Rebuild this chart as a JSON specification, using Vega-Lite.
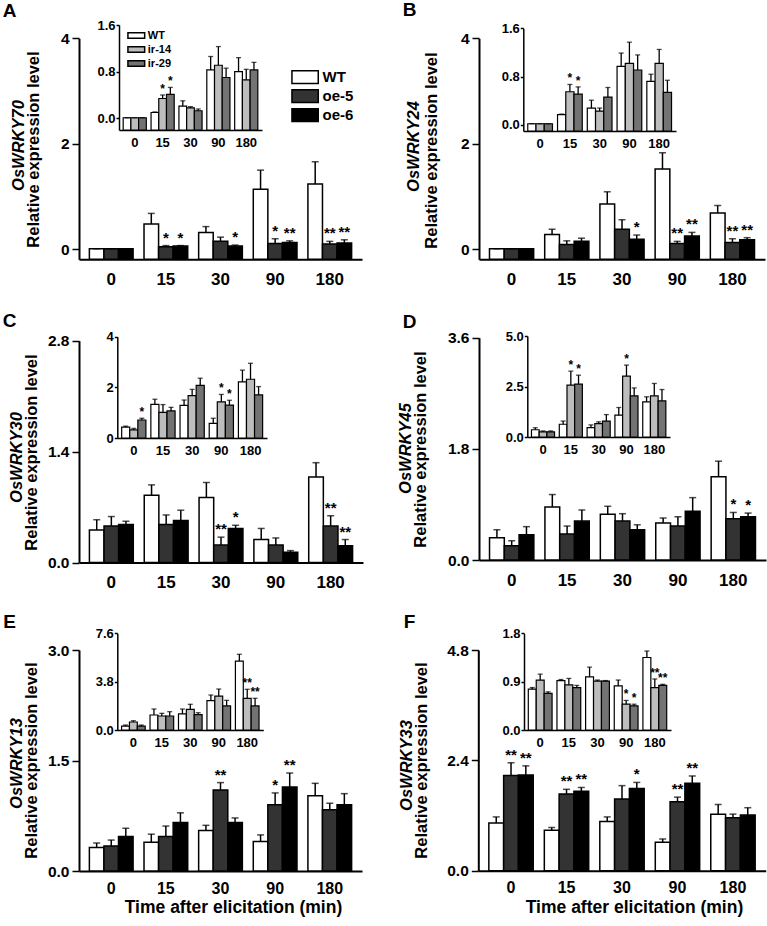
{
"$schema": "https://vega.github.io/schema/vega-lite/v6.json",
"width": 767, "height": 926, "autosize": {"type": "none"}, "padding": 0, "background": "white",
"config": {"view": {"stroke": null}, "axis": {"grid": false, "labelFont": "Liberation Sans", "titleFont": "Liberation Sans", "labelColor": "black", "titleColor": "black", "domainColor": "black", "tickColor": "black", "labelFontWeight": "bold", "titleFontWeight": "bold"}},
"datasets": {
"A_m": [
{"time":"0","geno":"WT","mean":0.01,"upper":0.01,"sig":""},{"time":"0","geno":"oe-5","mean":0.01,"upper":0.01,"sig":""},{"time":"0","geno":"oe-6","mean":0.01,"upper":0.01,"sig":""},
{"time":"15","geno":"WT","mean":0.48,"upper":0.68,"sig":""},{"time":"15","geno":"oe-5","mean":0.05,"upper":0.07,"sig":"*"},{"time":"15","geno":"oe-6","mean":0.06,"upper":0.07,"sig":"*"},
{"time":"30","geno":"WT","mean":0.32,"upper":0.43,"sig":""},{"time":"30","geno":"oe-5","mean":0.15,"upper":0.23,"sig":""},{"time":"30","geno":"oe-6","mean":0.06,"upper":0.08,"sig":"*"},
{"time":"90","geno":"WT","mean":1.14,"upper":1.5,"sig":""},{"time":"90","geno":"oe-5","mean":0.11,"upper":0.2,"sig":"*"},{"time":"90","geno":"oe-6","mean":0.13,"upper":0.16,"sig":"**"},
{"time":"180","geno":"WT","mean":1.24,"upper":1.66,"sig":""},{"time":"180","geno":"oe-5","mean":0.1,"upper":0.15,"sig":"**"},{"time":"180","geno":"oe-6","mean":0.12,"upper":0.18,"sig":"**"}],
"A_i": [
{"time":"0","geno":"WT","mean":0.01,"upper":0.01,"sig":""},{"time":"0","geno":"ir-14","mean":0.01,"upper":0.01,"sig":""},{"time":"0","geno":"ir-29","mean":0.01,"upper":0.01,"sig":""},
{"time":"15","geno":"WT","mean":0.1,"upper":0.11,"sig":""},{"time":"15","geno":"ir-14","mean":0.34,"upper":0.4,"sig":"*"},{"time":"15","geno":"ir-29","mean":0.41,"upper":0.53,"sig":"*"},
{"time":"30","geno":"WT","mean":0.21,"upper":0.3,"sig":""},{"time":"30","geno":"ir-14","mean":0.18,"upper":0.2,"sig":""},{"time":"30","geno":"ir-29","mean":0.13,"upper":0.16,"sig":""},
{"time":"90","geno":"WT","mean":0.83,"upper":1.06,"sig":""},{"time":"90","geno":"ir-14","mean":0.91,"upper":1.23,"sig":""},{"time":"90","geno":"ir-29","mean":0.7,"upper":0.86,"sig":""},
{"time":"180","geno":"WT","mean":0.8,"upper":1.04,"sig":""},{"time":"180","geno":"ir-14","mean":0.66,"upper":0.84,"sig":""},{"time":"180","geno":"ir-29","mean":0.83,"upper":0.96,"sig":""}],
"B_m": [
{"time":"0","geno":"WT","mean":0.01,"upper":0.01,"sig":""},{"time":"0","geno":"oe-5","mean":0.01,"upper":0.01,"sig":""},{"time":"0","geno":"oe-6","mean":0.01,"upper":0.01,"sig":""},
{"time":"15","geno":"WT","mean":0.28,"upper":0.38,"sig":""},{"time":"15","geno":"oe-5","mean":0.09,"upper":0.16,"sig":""},{"time":"15","geno":"oe-6","mean":0.15,"upper":0.21,"sig":""},
{"time":"30","geno":"WT","mean":0.86,"upper":1.09,"sig":""},{"time":"30","geno":"oe-5","mean":0.38,"upper":0.56,"sig":""},{"time":"30","geno":"oe-6","mean":0.19,"upper":0.27,"sig":"*"},
{"time":"90","geno":"WT","mean":1.52,"upper":1.83,"sig":""},{"time":"90","geno":"oe-5","mean":0.11,"upper":0.15,"sig":"**"},{"time":"90","geno":"oe-6","mean":0.25,"upper":0.32,"sig":"**"},
{"time":"180","geno":"WT","mean":0.69,"upper":0.83,"sig":""},{"time":"180","geno":"oe-5","mean":0.13,"upper":0.2,"sig":"**"},{"time":"180","geno":"oe-6","mean":0.18,"upper":0.22,"sig":"**"}],
"B_i": [
{"time":"0","geno":"WT","mean":0.02,"upper":0.02,"sig":""},{"time":"0","geno":"ir-14","mean":0.02,"upper":0.02,"sig":""},{"time":"0","geno":"ir-29","mean":0.02,"upper":0.02,"sig":""},
{"time":"15","geno":"WT","mean":0.17,"upper":0.18,"sig":""},{"time":"15","geno":"ir-14","mean":0.55,"upper":0.67,"sig":"*"},{"time":"15","geno":"ir-29","mean":0.51,"upper":0.63,"sig":"*"},
{"time":"30","geno":"WT","mean":0.28,"upper":0.41,"sig":""},{"time":"30","geno":"ir-14","mean":0.23,"upper":0.28,"sig":""},{"time":"30","geno":"ir-29","mean":0.46,"upper":0.62,"sig":""},
{"time":"90","geno":"WT","mean":0.97,"upper":1.19,"sig":""},{"time":"90","geno":"ir-14","mean":1.02,"upper":1.37,"sig":""},{"time":"90","geno":"ir-29","mean":0.91,"upper":1.16,"sig":""},
{"time":"180","geno":"WT","mean":0.72,"upper":0.84,"sig":""},{"time":"180","geno":"ir-14","mean":1.02,"upper":1.25,"sig":""},{"time":"180","geno":"ir-29","mean":0.54,"upper":0.74,"sig":""}],
"C_m": [
{"time":"0","geno":"WT","mean":0.41,"upper":0.54,"sig":""},{"time":"0","geno":"oe-5","mean":0.46,"upper":0.58,"sig":""},{"time":"0","geno":"oe-6","mean":0.48,"upper":0.52,"sig":""},
{"time":"15","geno":"WT","mean":0.85,"upper":0.98,"sig":""},{"time":"15","geno":"oe-5","mean":0.48,"upper":0.6,"sig":""},{"time":"15","geno":"oe-6","mean":0.53,"upper":0.66,"sig":""},
{"time":"30","geno":"WT","mean":0.82,"upper":1.01,"sig":""},{"time":"30","geno":"oe-5","mean":0.22,"upper":0.32,"sig":"**"},{"time":"30","geno":"oe-6","mean":0.43,"upper":0.47,"sig":"*"},
{"time":"90","geno":"WT","mean":0.29,"upper":0.43,"sig":""},{"time":"90","geno":"oe-5","mean":0.22,"upper":0.31,"sig":""},{"time":"90","geno":"oe-6","mean":0.13,"upper":0.15,"sig":""},
{"time":"180","geno":"WT","mean":1.08,"upper":1.26,"sig":""},{"time":"180","geno":"oe-5","mean":0.46,"upper":0.59,"sig":"**"},{"time":"180","geno":"oe-6","mean":0.21,"upper":0.29,"sig":"**"}],
"C_i": [
{"time":"0","geno":"WT","mean":0.43,"upper":0.47,"sig":""},{"time":"0","geno":"ir-14","mean":0.32,"upper":0.38,"sig":""},{"time":"0","geno":"ir-29","mean":0.71,"upper":0.78,"sig":"*"},
{"time":"15","geno":"WT","mean":1.33,"upper":1.53,"sig":""},{"time":"15","geno":"ir-14","mean":1.01,"upper":1.32,"sig":""},{"time":"15","geno":"ir-29","mean":1.07,"upper":1.21,"sig":""},
{"time":"30","geno":"WT","mean":1.29,"upper":1.5,"sig":""},{"time":"30","geno":"ir-14","mean":1.67,"upper":1.92,"sig":""},{"time":"30","geno":"ir-29","mean":2.08,"upper":2.36,"sig":""},
{"time":"90","geno":"WT","mean":0.58,"upper":0.78,"sig":""},{"time":"90","geno":"ir-14","mean":1.43,"upper":1.72,"sig":"*"},{"time":"90","geno":"ir-29","mean":1.3,"upper":1.49,"sig":"*"},
{"time":"180","geno":"WT","mean":2.22,"upper":2.68,"sig":""},{"time":"180","geno":"ir-14","mean":2.32,"upper":2.95,"sig":""},{"time":"180","geno":"ir-29","mean":1.7,"upper":2.03,"sig":""}],
"D_m": [
{"time":"0","geno":"WT","mean":0.36,"upper":0.49,"sig":""},{"time":"0","geno":"oe-5","mean":0.23,"upper":0.31,"sig":""},{"time":"0","geno":"oe-6","mean":0.41,"upper":0.54,"sig":""},
{"time":"15","geno":"WT","mean":0.86,"upper":1.06,"sig":""},{"time":"15","geno":"oe-5","mean":0.42,"upper":0.55,"sig":""},{"time":"15","geno":"oe-6","mean":0.63,"upper":0.81,"sig":""},
{"time":"30","geno":"WT","mean":0.74,"upper":0.87,"sig":""},{"time":"30","geno":"oe-5","mean":0.63,"upper":0.75,"sig":""},{"time":"30","geno":"oe-6","mean":0.49,"upper":0.57,"sig":""},
{"time":"90","geno":"WT","mean":0.6,"upper":0.68,"sig":""},{"time":"90","geno":"oe-5","mean":0.55,"upper":0.7,"sig":""},{"time":"90","geno":"oe-6","mean":0.79,"upper":1.01,"sig":""},
{"time":"180","geno":"WT","mean":1.35,"upper":1.6,"sig":""},{"time":"180","geno":"oe-5","mean":0.67,"upper":0.77,"sig":"*"},{"time":"180","geno":"oe-6","mean":0.7,"upper":0.76,"sig":"*"}],
"D_i": [
{"time":"0","geno":"WT","mean":0.36,"upper":0.46,"sig":""},{"time":"0","geno":"ir-14","mean":0.25,"upper":0.3,"sig":""},{"time":"0","geno":"ir-29","mean":0.25,"upper":0.3,"sig":""},
{"time":"15","geno":"WT","mean":0.63,"upper":0.79,"sig":""},{"time":"15","geno":"ir-14","mean":2.57,"upper":3.26,"sig":"*"},{"time":"15","geno":"ir-29","mean":2.62,"upper":3.06,"sig":"*"},
{"time":"30","geno":"WT","mean":0.46,"upper":0.6,"sig":""},{"time":"30","geno":"ir-14","mean":0.66,"upper":0.75,"sig":""},{"time":"30","geno":"ir-29","mean":0.79,"upper":1.11,"sig":""},
{"time":"90","geno":"WT","mean":1.08,"upper":1.46,"sig":""},{"time":"90","geno":"ir-14","mean":3.01,"upper":3.56,"sig":"*"},{"time":"90","geno":"ir-29","mean":2.04,"upper":2.43,"sig":""},
{"time":"180","geno":"WT","mean":1.74,"upper":1.99,"sig":""},{"time":"180","geno":"ir-14","mean":2.04,"upper":2.65,"sig":""},{"time":"180","geno":"ir-29","mean":1.79,"upper":2.35,"sig":""}],
"E_m": [
{"time":"0","geno":"WT","mean":0.32,"upper":0.38,"sig":""},{"time":"0","geno":"oe-5","mean":0.34,"upper":0.42,"sig":""},{"time":"0","geno":"oe-6","mean":0.47,"upper":0.58,"sig":""},
{"time":"15","geno":"WT","mean":0.39,"upper":0.5,"sig":""},{"time":"15","geno":"oe-5","mean":0.47,"upper":0.61,"sig":""},{"time":"15","geno":"oe-6","mean":0.66,"upper":0.79,"sig":""},
{"time":"30","geno":"WT","mean":0.55,"upper":0.62,"sig":""},{"time":"30","geno":"oe-5","mean":1.1,"upper":1.2,"sig":"**"},{"time":"30","geno":"oe-6","mean":0.66,"upper":0.72,"sig":""},
{"time":"90","geno":"WT","mean":0.4,"upper":0.49,"sig":""},{"time":"90","geno":"oe-5","mean":0.9,"upper":1.06,"sig":"*"},{"time":"90","geno":"oe-6","mean":1.14,"upper":1.33,"sig":"**"},
{"time":"180","geno":"WT","mean":1.02,"upper":1.19,"sig":""},{"time":"180","geno":"oe-5","mean":0.83,"upper":0.92,"sig":""},{"time":"180","geno":"oe-6","mean":0.9,"upper":1.05,"sig":""}],
"E_i": [
{"time":"0","geno":"WT","mean":0.31,"upper":0.39,"sig":""},{"time":"0","geno":"ir-14","mean":0.63,"upper":0.73,"sig":""},{"time":"0","geno":"ir-29","mean":0.31,"upper":0.39,"sig":""},
{"time":"15","geno":"WT","mean":1.18,"upper":1.65,"sig":""},{"time":"15","geno":"ir-14","mean":1.1,"upper":1.31,"sig":""},{"time":"15","geno":"ir-29","mean":1.1,"upper":1.44,"sig":""},
{"time":"30","geno":"WT","mean":1.26,"upper":1.65,"sig":""},{"time":"30","geno":"ir-14","mean":1.62,"upper":2.02,"sig":""},{"time":"30","geno":"ir-29","mean":1.21,"upper":1.36,"sig":""},
{"time":"90","geno":"WT","mean":2.31,"upper":2.75,"sig":""},{"time":"90","geno":"ir-14","mean":2.67,"upper":3.22,"sig":""},{"time":"90","geno":"ir-29","mean":1.89,"upper":2.33,"sig":""},
{"time":"180","geno":"WT","mean":5.42,"upper":5.95,"sig":""},{"time":"180","geno":"ir-14","mean":2.49,"upper":3.2,"sig":"**"},{"time":"180","geno":"ir-29","mean":1.89,"upper":2.49,"sig":"**"}],
"F_m": [
{"time":"0","geno":"WT","mean":1.04,"upper":1.17,"sig":""},{"time":"0","geno":"oe-5","mean":2.07,"upper":2.35,"sig":"**"},{"time":"0","geno":"oe-6","mean":2.08,"upper":2.28,"sig":"**"},
{"time":"15","geno":"WT","mean":0.88,"upper":0.94,"sig":""},{"time":"15","geno":"oe-5","mean":1.67,"upper":1.77,"sig":"**"},{"time":"15","geno":"oe-6","mean":1.73,"upper":1.81,"sig":"**"},
{"time":"30","geno":"WT","mean":1.07,"upper":1.17,"sig":""},{"time":"30","geno":"oe-5","mean":1.56,"upper":1.85,"sig":""},{"time":"30","geno":"oe-6","mean":1.79,"upper":1.92,"sig":"*"},
{"time":"90","geno":"WT","mean":0.62,"upper":0.69,"sig":""},{"time":"90","geno":"oe-5","mean":1.5,"upper":1.6,"sig":"**"},{"time":"90","geno":"oe-6","mean":1.9,"upper":2.06,"sig":"**"},
{"time":"180","geno":"WT","mean":1.23,"upper":1.44,"sig":""},{"time":"180","geno":"oe-5","mean":1.15,"upper":1.23,"sig":""},{"time":"180","geno":"oe-6","mean":1.21,"upper":1.37,"sig":""}],
"F_i": [
{"time":"0","geno":"WT","mean":0.76,"upper":0.79,"sig":""},{"time":"0","geno":"ir-14","mean":0.93,"upper":1.04,"sig":""},{"time":"0","geno":"ir-29","mean":0.68,"upper":0.71,"sig":""},
{"time":"15","geno":"WT","mean":0.92,"upper":0.94,"sig":""},{"time":"15","geno":"ir-14","mean":0.84,"upper":0.96,"sig":""},{"time":"15","geno":"ir-29","mean":0.79,"upper":0.83,"sig":""},
{"time":"30","geno":"WT","mean":0.99,"upper":1.17,"sig":""},{"time":"30","geno":"ir-14","mean":0.91,"upper":0.93,"sig":""},{"time":"30","geno":"ir-29","mean":0.91,"upper":0.92,"sig":""},
{"time":"90","geno":"WT","mean":0.82,"upper":0.93,"sig":""},{"time":"90","geno":"ir-14","mean":0.48,"upper":0.55,"sig":"*"},{"time":"90","geno":"ir-29","mean":0.45,"upper":0.48,"sig":"*"},
{"time":"180","geno":"WT","mean":1.35,"upper":1.47,"sig":""},{"time":"180","geno":"ir-14","mean":0.79,"upper":0.95,"sig":"**"},{"time":"180","geno":"ir-29","mean":0.83,"upper":0.85,"sig":"**"}]
},
"layer": [
{"data": {"name": "A_m"},
 "encoding": {"x": {"field": "time", "type": "nominal", "sort": ["0","15","30","90","180"], "scale": {"range": [79, 362], "paddingInner": 0.2, "paddingOuter": 0.19}, "axis": {"orient": "bottom", "offset": -666.7, "title": null, "ticks": false, "labelAngle": 0, "labelFontSize": 17, "labelPadding": 12, "domainWidth": 2}},
  "xOffset": {"field": "geno", "type": "nominal", "sort": ["WT","oe-5","oe-6"]}},
 "layer": [
  {"mark": {"type": "bar", "stroke": "black", "strokeWidth": 1.5},
   "encoding": {"y": {"field": "mean", "type": "quantitative", "scale": {"domain": [-0.19, 4], "range": [259.3, 38.3], "nice": false, "zero": false}, "axis": {"orient": "left", "offset": -79, "values": [0, 2, 4], "format": "d", "tickSize": 7, "tickWidth": 1.5, "domainWidth": 2, "labelFontSize": 15.5, "labelPadding": 3, "title": "Relative expression level", "titleFontSize": 16.5, "titleAngle": -90, "titleX": -46, "titleY": 149, "titleAlign": "center", "titleBaseline": "middle"}},
    "y2": {"datum": -0.19},
    "color": {"field": "geno", "type": "nominal", "scale": {"domain": ["WT","oe-5","oe-6"], "range": ["#ffffff","#333333","#000000"]}, "legend": {"orient": "none", "legendX": 297.6, "legendY": 69.7, "title": null, "symbolType": "M-2,-0.966H2V0.966H-2Z", "symbolSize": 173, "labelFontSize": 15, "labelFont": "Liberation Sans", "labelFontWeight": "bold", "labelColor": "black", "labelOffset": 10, "rowPadding": 0, "padding": 0, "encode": {"symbols": {"update": {"stroke": {"value": "black"}, "strokeWidth": {"value": 1.5}}}}}}}},
  {"mark": {"type": "rule", "color": "black", "strokeWidth": 1.5},
   "encoding": {"y": {"field": "mean", "type": "quantitative", "scale": {"domain": [-0.19, 4], "range": [259.3, 38.3], "nice": false, "zero": false}, "axis": {"orient": "left", "offset": -79, "domain": false, "ticks": false, "labels": false, "title": "OsWRKY70", "titleFontStyle": "italic", "titleFontSize": 16.5, "titleAngle": -90, "titleX": -61, "titleY": 145, "titleAlign": "center", "titleBaseline": "middle"}}, "y2": {"field": "upper"}}},
  {"mark": {"type": "tick", "color": "black", "thickness": 1.5, "size": 7},
   "encoding": {"y": {"field": "upper", "type": "quantitative", "scale": {"domain": [-0.19, 4], "range": [259.3, 38.3], "nice": false, "zero": false}, "axis": null}}},
  {"mark": {"type": "text", "font": "Liberation Sans", "fontWeight": "bold", "fontSize": 15, "baseline": "alphabetic", "dy": -3},
   "encoding": {"y": {"field": "upper", "type": "quantitative", "scale": {"domain": [-0.19, 4], "range": [259.3, 38.3], "nice": false, "zero": false}, "axis": {"orient": "left", "offset": -79, "domain": false, "ticks": false, "labels": false, "title": "A", "titleFontSize": 19, "titleAngle": 0, "titleX": -70, "titleY": 10, "titleAlign": "center", "titleBaseline": "middle"}}, "text": {"field": "sig"}}}
 ],
 "resolve": {"axis": {"y": "independent"}}},
{"data": {"name": "A_i"},
 "encoding": {"x": {"field": "time", "type": "nominal", "sort": ["0","15","30","90","180"], "scale": {"range": [119, 262], "paddingInner": 0.17, "paddingOuter": 0.15}, "axis": {"orient": "bottom", "offset": -796, "title": null, "ticks": false, "labelAngle": 0, "labelFontSize": 13, "labelPadding": 6, "domainWidth": 1.5}},
  "xOffset": {"field": "geno", "type": "nominal", "sort": ["WT","ir-14","ir-29"]}},
 "layer": [
  {"mark": {"type": "bar", "stroke": "black", "strokeWidth": 1.2},
   "encoding": {"y": {"field": "mean", "type": "quantitative", "scale": {"domain": [-0.2, 1.6], "range": [130, 25], "nice": false, "zero": false}, "axis": {"orient": "left", "offset": -119, "values": [0, 0.8, 1.6], "format": ".1f", "tickSize": 3, "tickWidth": 1.5, "domainWidth": 1.5, "labelFontSize": 13, "labelPadding": 1, "title": null}},
    "y2": {"datum": -0.2},
    "color": {"field": "geno", "type": "nominal", "scale": {"domain": ["WT","ir-14","ir-29"], "range": ["#ffffff","#bdbdbd","#737373"]}, "legend": {"orient": "none", "legendX": 130.8, "legendY": 30, "title": null, "symbolType": "M-2,-0.66H2V0.66H-2Z", "symbolSize": 70, "labelFontSize": 11, "labelFont": "Liberation Sans", "labelFontWeight": "bold", "labelColor": "black", "labelOffset": 6, "rowPadding": 1, "padding": 0, "encode": {"symbols": {"update": {"stroke": {"value": "black"}, "strokeWidth": {"value": 1.2}}}}}}}},
  {"mark": {"type": "rule", "color": "black", "strokeWidth": 1.3},
   "encoding": {"y": {"field": "mean", "type": "quantitative", "scale": {"domain": [-0.2, 1.6], "range": [130, 25], "nice": false, "zero": false}, "axis": null}, "y2": {"field": "upper"}}},
  {"mark": {"type": "tick", "color": "black", "thickness": 1.3, "size": 5},
   "encoding": {"y": {"field": "upper", "type": "quantitative", "scale": {"domain": [-0.2, 1.6], "range": [130, 25], "nice": false, "zero": false}, "axis": null}}},
  {"mark": {"type": "text", "font": "Liberation Sans", "fontWeight": "bold", "fontSize": 12, "baseline": "alphabetic", "dy": -2},
   "encoding": {"y": {"field": "upper", "type": "quantitative", "scale": {"domain": [-0.2, 1.6], "range": [130, 25], "nice": false, "zero": false}, "axis": null}, "text": {"field": "sig"}}}
 ],
 "resolve": {"axis": {"y": "independent"}}},
{"data": {"name": "B_m"},
 "encoding": {"x": {"field": "time", "type": "nominal", "sort": ["0","15","30","90","180"], "scale": {"range": [479, 765], "paddingInner": 0.2, "paddingOuter": 0.19}, "axis": {"orient": "bottom", "offset": -666.7, "title": null, "ticks": false, "labelAngle": 0, "labelFontSize": 17, "labelPadding": 12, "domainWidth": 2}},
  "xOffset": {"field": "geno", "type": "nominal", "sort": ["WT","oe-5","oe-6"]}},
 "layer": [
  {"mark": {"type": "bar", "stroke": "black", "strokeWidth": 1.5},
   "encoding": {"y": {"field": "mean", "type": "quantitative", "scale": {"domain": [-0.19, 4], "range": [259.3, 38.3], "nice": false, "zero": false}, "axis": {"orient": "left", "offset": -479, "values": [0, 2, 4], "format": "d", "tickSize": 7, "tickWidth": 1.5, "domainWidth": 2, "labelFontSize": 15.5, "labelPadding": 3, "title": "Relative expression level", "titleFontSize": 16.5, "titleAngle": -90, "titleX": -48, "titleY": 150, "titleAlign": "center", "titleBaseline": "middle"}},
    "y2": {"datum": -0.19},
    "color": {"field": "geno", "type": "nominal", "scale": {"domain": ["WT","oe-5","oe-6"], "range": ["#ffffff","#333333","#000000"]}, "legend": null}}},
  {"mark": {"type": "rule", "color": "black", "strokeWidth": 1.5},
   "encoding": {"y": {"field": "mean", "type": "quantitative", "scale": {"domain": [-0.19, 4], "range": [259.3, 38.3], "nice": false, "zero": false}, "axis": {"orient": "left", "offset": -479, "domain": false, "ticks": false, "labels": false, "title": "OsWRKY24", "titleFontStyle": "italic", "titleFontSize": 16.5, "titleAngle": -90, "titleX": -66, "titleY": 146, "titleAlign": "center", "titleBaseline": "middle"}}, "y2": {"field": "upper"}}},
  {"mark": {"type": "tick", "color": "black", "thickness": 1.5, "size": 7},
   "encoding": {"y": {"field": "upper", "type": "quantitative", "scale": {"domain": [-0.19, 4], "range": [259.3, 38.3], "nice": false, "zero": false}, "axis": null}}},
  {"mark": {"type": "text", "font": "Liberation Sans", "fontWeight": "bold", "fontSize": 15, "baseline": "alphabetic", "dy": -3},
   "encoding": {"y": {"field": "upper", "type": "quantitative", "scale": {"domain": [-0.19, 4], "range": [259.3, 38.3], "nice": false, "zero": false}, "axis": {"orient": "left", "offset": -479, "domain": false, "ticks": false, "labels": false, "title": "B", "titleFontSize": 19, "titleAngle": 0, "titleX": -70, "titleY": 9, "titleAlign": "center", "titleBaseline": "middle"}}, "text": {"field": "sig"}}}
 ],
 "resolve": {"axis": {"y": "independent"}}},
{"data": {"name": "B_i"},
 "encoding": {"x": {"field": "time", "type": "nominal", "sort": ["0","15","30","90","180"], "scale": {"range": [523.3, 676], "paddingInner": 0.17, "paddingOuter": 0.15}, "axis": {"orient": "bottom", "offset": -795, "title": null, "ticks": false, "labelAngle": 0, "labelFontSize": 13, "labelPadding": 6, "domainWidth": 1.5}},
  "xOffset": {"field": "geno", "type": "nominal", "sort": ["WT","ir-14","ir-29"]}},
 "layer": [
  {"mark": {"type": "bar", "stroke": "black", "strokeWidth": 1.2},
   "encoding": {"y": {"field": "mean", "type": "quantitative", "scale": {"domain": [-0.1, 1.6], "range": [131, 28.3], "nice": false, "zero": false}, "axis": {"orient": "left", "offset": -523.3, "values": [0, 0.8, 1.6], "format": ".1f", "tickSize": 3, "tickWidth": 1.5, "domainWidth": 1.5, "labelFontSize": 13, "labelPadding": 1, "title": null}},
    "y2": {"datum": -0.1},
    "color": {"field": "geno", "type": "nominal", "scale": {"domain": ["WT","ir-14","ir-29"], "range": ["#ffffff","#bdbdbd","#737373"]}, "legend": null}}},
  {"mark": {"type": "rule", "color": "black", "strokeWidth": 1.3},
   "encoding": {"y": {"field": "mean", "type": "quantitative", "scale": {"domain": [-0.1, 1.6], "range": [131, 28.3], "nice": false, "zero": false}, "axis": null}, "y2": {"field": "upper"}}},
  {"mark": {"type": "tick", "color": "black", "thickness": 1.3, "size": 5},
   "encoding": {"y": {"field": "upper", "type": "quantitative", "scale": {"domain": [-0.1, 1.6], "range": [131, 28.3], "nice": false, "zero": false}, "axis": null}}},
  {"mark": {"type": "text", "font": "Liberation Sans", "fontWeight": "bold", "fontSize": 12, "baseline": "alphabetic", "dy": -2},
   "encoding": {"y": {"field": "upper", "type": "quantitative", "scale": {"domain": [-0.1, 1.6], "range": [131, 28.3], "nice": false, "zero": false}, "axis": null}, "text": {"field": "sig"}}}
 ],
 "resolve": {"axis": {"y": "independent"}}},
{"data": {"name": "C_m"},
 "encoding": {"x": {"field": "time", "type": "nominal", "sort": ["0","15","30","90","180"], "scale": {"range": [79, 363], "paddingInner": 0.2, "paddingOuter": 0.19}, "axis": {"orient": "bottom", "offset": -363.5, "title": null, "ticks": false, "labelAngle": 0, "labelFontSize": 17, "labelPadding": 12, "domainWidth": 2}},
  "xOffset": {"field": "geno", "type": "nominal", "sort": ["WT","oe-5","oe-6"]}},
 "layer": [
  {"mark": {"type": "bar", "stroke": "black", "strokeWidth": 1.5},
   "encoding": {"y": {"field": "mean", "type": "quantitative", "scale": {"domain": [0, 2.8], "range": [562.5, 340.7], "nice": false, "zero": false}, "axis": {"orient": "left", "offset": -79, "values": [0, 1.4, 2.8], "format": ".1f", "tickSize": 7, "tickWidth": 1.5, "domainWidth": 2, "labelFontSize": 15.5, "labelPadding": 3, "title": "Relative expression level", "titleFontSize": 16.5, "titleAngle": -90, "titleX": -47.5, "titleY": 452, "titleAlign": "center", "titleBaseline": "middle"}},
    "y2": {"datum": 0},
    "color": {"field": "geno", "type": "nominal", "scale": {"domain": ["WT","oe-5","oe-6"], "range": ["#ffffff","#333333","#000000"]}, "legend": null}}},
  {"mark": {"type": "rule", "color": "black", "strokeWidth": 1.5},
   "encoding": {"y": {"field": "mean", "type": "quantitative", "scale": {"domain": [0, 2.8], "range": [562.5, 340.7], "nice": false, "zero": false}, "axis": {"orient": "left", "offset": -79, "domain": false, "ticks": false, "labels": false, "title": "OsWRKY30", "titleFontStyle": "italic", "titleFontSize": 16.5, "titleAngle": -90, "titleX": -63, "titleY": 457, "titleAlign": "center", "titleBaseline": "middle"}}, "y2": {"field": "upper"}}},
  {"mark": {"type": "tick", "color": "black", "thickness": 1.5, "size": 7},
   "encoding": {"y": {"field": "upper", "type": "quantitative", "scale": {"domain": [0, 2.8], "range": [562.5, 340.7], "nice": false, "zero": false}, "axis": null}}},
  {"mark": {"type": "text", "font": "Liberation Sans", "fontWeight": "bold", "fontSize": 15, "baseline": "alphabetic", "dy": -3},
   "encoding": {"y": {"field": "upper", "type": "quantitative", "scale": {"domain": [0, 2.8], "range": [562.5, 340.7], "nice": false, "zero": false}, "axis": {"orient": "left", "offset": -79, "domain": false, "ticks": false, "labels": false, "title": "C", "titleFontSize": 19, "titleAngle": 0, "titleX": -70, "titleY": 320, "titleAlign": "center", "titleBaseline": "middle"}}, "text": {"field": "sig"}}}
 ],
 "resolve": {"axis": {"y": "independent"}}},
{"data": {"name": "C_i"},
 "encoding": {"x": {"field": "time", "type": "nominal", "sort": ["0","15","30","90","180"], "scale": {"range": [117.3, 267], "paddingInner": 0.17, "paddingOuter": 0.15}, "axis": {"orient": "bottom", "offset": -488, "title": null, "ticks": false, "labelAngle": 0, "labelFontSize": 13, "labelPadding": 6, "domainWidth": 1.5}},
  "xOffset": {"field": "geno", "type": "nominal", "sort": ["WT","ir-14","ir-29"]}},
 "layer": [
  {"mark": {"type": "bar", "stroke": "black", "strokeWidth": 1.2},
   "encoding": {"y": {"field": "mean", "type": "quantitative", "scale": {"domain": [0, 4], "range": [438, 336.7], "nice": false, "zero": false}, "axis": {"orient": "left", "offset": -117.3, "values": [0, 2, 4], "format": "d", "tickSize": 3, "tickWidth": 1.5, "domainWidth": 1.5, "labelFontSize": 13, "labelPadding": 1, "title": null}},
    "y2": {"datum": 0},
    "color": {"field": "geno", "type": "nominal", "scale": {"domain": ["WT","ir-14","ir-29"], "range": ["#ffffff","#bdbdbd","#737373"]}, "legend": null}}},
  {"mark": {"type": "rule", "color": "black", "strokeWidth": 1.3},
   "encoding": {"y": {"field": "mean", "type": "quantitative", "scale": {"domain": [0, 4], "range": [438, 336.7], "nice": false, "zero": false}, "axis": null}, "y2": {"field": "upper"}}},
  {"mark": {"type": "tick", "color": "black", "thickness": 1.3, "size": 5},
   "encoding": {"y": {"field": "upper", "type": "quantitative", "scale": {"domain": [0, 4], "range": [438, 336.7], "nice": false, "zero": false}, "axis": null}}},
  {"mark": {"type": "text", "font": "Liberation Sans", "fontWeight": "bold", "fontSize": 12, "baseline": "alphabetic", "dy": -2},
   "encoding": {"y": {"field": "upper", "type": "quantitative", "scale": {"domain": [0, 4], "range": [438, 336.7], "nice": false, "zero": false}, "axis": null}, "text": {"field": "sig"}}}
 ],
 "resolve": {"axis": {"y": "independent"}}},
{"data": {"name": "D_m"},
 "encoding": {"x": {"field": "time", "type": "nominal", "sort": ["0","15","30","90","180"], "scale": {"range": [479, 766], "paddingInner": 0.2, "paddingOuter": 0.19}, "axis": {"orient": "bottom", "offset": -366, "title": null, "ticks": false, "labelAngle": 0, "labelFontSize": 17, "labelPadding": 12, "domainWidth": 2}},
  "xOffset": {"field": "geno", "type": "nominal", "sort": ["WT","oe-5","oe-6"]}},
 "layer": [
  {"mark": {"type": "bar", "stroke": "black", "strokeWidth": 1.5},
   "encoding": {"y": {"field": "mean", "type": "quantitative", "scale": {"domain": [0, 3.6], "range": [560, 337.7], "nice": false, "zero": false}, "axis": {"orient": "left", "offset": -479, "values": [0, 1.8, 3.6], "format": ".1f", "tickSize": 7, "tickWidth": 1.5, "domainWidth": 2, "labelFontSize": 15.5, "labelPadding": 3, "title": "Relative expression level", "titleFontSize": 16.5, "titleAngle": -90, "titleX": -59, "titleY": 449, "titleAlign": "center", "titleBaseline": "middle"}},
    "y2": {"datum": 0},
    "color": {"field": "geno", "type": "nominal", "scale": {"domain": ["WT","oe-5","oe-6"], "range": ["#ffffff","#333333","#000000"]}, "legend": null}}},
  {"mark": {"type": "rule", "color": "black", "strokeWidth": 1.5},
   "encoding": {"y": {"field": "mean", "type": "quantitative", "scale": {"domain": [0, 3.6], "range": [560, 337.7], "nice": false, "zero": false}, "axis": {"orient": "left", "offset": -479, "domain": false, "ticks": false, "labels": false, "title": "OsWRKY45", "titleFontStyle": "italic", "titleFontSize": 16.5, "titleAngle": -90, "titleX": -74, "titleY": 448, "titleAlign": "center", "titleBaseline": "middle"}}, "y2": {"field": "upper"}}},
  {"mark": {"type": "tick", "color": "black", "thickness": 1.5, "size": 7},
   "encoding": {"y": {"field": "upper", "type": "quantitative", "scale": {"domain": [0, 3.6], "range": [560, 337.7], "nice": false, "zero": false}, "axis": null}}},
  {"mark": {"type": "text", "font": "Liberation Sans", "fontWeight": "bold", "fontSize": 15, "baseline": "alphabetic", "dy": -3},
   "encoding": {"y": {"field": "upper", "type": "quantitative", "scale": {"domain": [0, 3.6], "range": [560, 337.7], "nice": false, "zero": false}, "axis": {"orient": "left", "offset": -479, "domain": false, "ticks": false, "labels": false, "title": "D", "titleFontSize": 19, "titleAngle": 0, "titleX": -70, "titleY": 321.7, "titleAlign": "center", "titleBaseline": "middle"}}, "text": {"field": "sig"}}}
 ],
 "resolve": {"axis": {"y": "independent"}}},
{"data": {"name": "D_i"},
 "encoding": {"x": {"field": "time", "type": "nominal", "sort": ["0","15","30","90","180"], "scale": {"range": [527.3, 670], "paddingInner": 0.17, "paddingOuter": 0.15}, "axis": {"orient": "bottom", "offset": -489, "title": null, "ticks": false, "labelAngle": 0, "labelFontSize": 13, "labelPadding": 6, "domainWidth": 1.5}},
  "xOffset": {"field": "geno", "type": "nominal", "sort": ["WT","ir-14","ir-29"]}},
 "layer": [
  {"mark": {"type": "bar", "stroke": "black", "strokeWidth": 1.2},
   "encoding": {"y": {"field": "mean", "type": "quantitative", "scale": {"domain": [0, 5], "range": [437, 336], "nice": false, "zero": false}, "axis": {"orient": "left", "offset": -527.3, "values": [0, 2.5, 5], "format": ".1f", "tickSize": 3, "tickWidth": 1.5, "domainWidth": 1.5, "labelFontSize": 13, "labelPadding": 1, "title": null}},
    "y2": {"datum": 0},
    "color": {"field": "geno", "type": "nominal", "scale": {"domain": ["WT","ir-14","ir-29"], "range": ["#ffffff","#bdbdbd","#737373"]}, "legend": null}}},
  {"mark": {"type": "rule", "color": "black", "strokeWidth": 1.3},
   "encoding": {"y": {"field": "mean", "type": "quantitative", "scale": {"domain": [0, 5], "range": [437, 336], "nice": false, "zero": false}, "axis": null}, "y2": {"field": "upper"}}},
  {"mark": {"type": "tick", "color": "black", "thickness": 1.3, "size": 5},
   "encoding": {"y": {"field": "upper", "type": "quantitative", "scale": {"domain": [0, 5], "range": [437, 336], "nice": false, "zero": false}, "axis": null}}},
  {"mark": {"type": "text", "font": "Liberation Sans", "fontWeight": "bold", "fontSize": 12, "baseline": "alphabetic", "dy": -2},
   "encoding": {"y": {"field": "upper", "type": "quantitative", "scale": {"domain": [0, 5], "range": [437, 336], "nice": false, "zero": false}, "axis": null}, "text": {"field": "sig"}}}
 ],
 "resolve": {"axis": {"y": "independent"}}},
{"data": {"name": "E_m"},
 "encoding": {"x": {"field": "time", "type": "nominal", "sort": ["0","15","30","90","180"], "scale": {"range": [79, 362], "paddingInner": 0.2, "paddingOuter": 0.19}, "axis": {"orient": "bottom", "offset": -55, "title": "Time after elicitation (min)", "titleFontSize": 17.5, "titleX": 233, "titleY": 36.5, "titleAlign": "center", "titleBaseline": "middle", "ticks": false, "labelAngle": 0, "labelFontSize": 16, "labelPadding": 9, "domainWidth": 2}},
  "xOffset": {"field": "geno", "type": "nominal", "sort": ["WT","oe-5","oe-6"]}},
 "layer": [
  {"mark": {"type": "bar", "stroke": "black", "strokeWidth": 1.5},
   "encoding": {"y": {"field": "mean", "type": "quantitative", "scale": {"domain": [0, 3], "range": [871, 650], "nice": false, "zero": false}, "axis": {"orient": "left", "offset": -79, "values": [0, 1.5, 3], "format": ".1f", "tickSize": 7, "tickWidth": 1.5, "domainWidth": 2, "labelFontSize": 15.5, "labelPadding": 3, "title": "Relative expression level", "titleFontSize": 16.5, "titleAngle": -90, "titleX": -47.5, "titleY": 760, "titleAlign": "center", "titleBaseline": "middle"}},
    "y2": {"datum": 0},
    "color": {"field": "geno", "type": "nominal", "scale": {"domain": ["WT","oe-5","oe-6"], "range": ["#ffffff","#333333","#000000"]}, "legend": null}}},
  {"mark": {"type": "rule", "color": "black", "strokeWidth": 1.5},
   "encoding": {"y": {"field": "mean", "type": "quantitative", "scale": {"domain": [0, 3], "range": [871, 650], "nice": false, "zero": false}, "axis": {"orient": "left", "offset": -79, "domain": false, "ticks": false, "labels": false, "title": "OsWRKY13", "titleFontStyle": "italic", "titleFontSize": 16.5, "titleAngle": -90, "titleX": -63, "titleY": 763, "titleAlign": "center", "titleBaseline": "middle"}}, "y2": {"field": "upper"}}},
  {"mark": {"type": "tick", "color": "black", "thickness": 1.5, "size": 7},
   "encoding": {"y": {"field": "upper", "type": "quantitative", "scale": {"domain": [0, 3], "range": [871, 650], "nice": false, "zero": false}, "axis": null}}},
  {"mark": {"type": "text", "font": "Liberation Sans", "fontWeight": "bold", "fontSize": 15, "baseline": "alphabetic", "dy": -3},
   "encoding": {"y": {"field": "upper", "type": "quantitative", "scale": {"domain": [0, 3], "range": [871, 650], "nice": false, "zero": false}, "axis": {"orient": "left", "offset": -79, "domain": false, "ticks": false, "labels": false, "title": "E", "titleFontSize": 19, "titleAngle": 0, "titleX": -70, "titleY": 621.5, "titleAlign": "center", "titleBaseline": "middle"}}, "text": {"field": "sig"}}}
 ],
 "resolve": {"axis": {"y": "independent"}}},
{"data": {"name": "E_i"},
 "encoding": {"x": {"field": "time", "type": "nominal", "sort": ["0","15","30","90","180"], "scale": {"range": [117.3, 263.3], "paddingInner": 0.17, "paddingOuter": 0.15}, "axis": {"orient": "bottom", "offset": -196, "title": null, "ticks": false, "labelAngle": 0, "labelFontSize": 13, "labelPadding": 6, "domainWidth": 1.5}},
  "xOffset": {"field": "geno", "type": "nominal", "sort": ["WT","ir-14","ir-29"]}},
 "layer": [
  {"mark": {"type": "bar", "stroke": "black", "strokeWidth": 1.2},
   "encoding": {"y": {"field": "mean", "type": "quantitative", "scale": {"domain": [0, 7.6], "range": [730, 633.3], "nice": false, "zero": false}, "axis": {"orient": "left", "offset": -117.3, "values": [0, 3.8, 7.6], "format": ".1f", "tickSize": 3, "tickWidth": 1.5, "domainWidth": 1.5, "labelFontSize": 13, "labelPadding": 1, "title": null}},
    "y2": {"datum": 0},
    "color": {"field": "geno", "type": "nominal", "scale": {"domain": ["WT","ir-14","ir-29"], "range": ["#ffffff","#bdbdbd","#737373"]}, "legend": null}}},
  {"mark": {"type": "rule", "color": "black", "strokeWidth": 1.3},
   "encoding": {"y": {"field": "mean", "type": "quantitative", "scale": {"domain": [0, 7.6], "range": [730, 633.3], "nice": false, "zero": false}, "axis": null}, "y2": {"field": "upper"}}},
  {"mark": {"type": "tick", "color": "black", "thickness": 1.3, "size": 5},
   "encoding": {"y": {"field": "upper", "type": "quantitative", "scale": {"domain": [0, 7.6], "range": [730, 633.3], "nice": false, "zero": false}, "axis": null}}},
  {"mark": {"type": "text", "font": "Liberation Sans", "fontWeight": "bold", "fontSize": 12, "baseline": "alphabetic", "dy": -2},
   "encoding": {"y": {"field": "upper", "type": "quantitative", "scale": {"domain": [0, 7.6], "range": [730, 633.3], "nice": false, "zero": false}, "axis": null}, "text": {"field": "sig"}}}
 ],
 "resolve": {"axis": {"y": "independent"}}},
{"data": {"name": "F_m"},
 "encoding": {"x": {"field": "time", "type": "nominal", "sort": ["0","15","30","90","180"], "scale": {"range": [478.3, 765.7], "paddingInner": 0.2, "paddingOuter": 0.19}, "axis": {"orient": "bottom", "offset": -55.3, "title": "Time after elicitation (min)", "titleFontSize": 17.5, "titleX": 634, "titleY": 36.5, "titleAlign": "center", "titleBaseline": "middle", "ticks": false, "labelAngle": 0, "labelFontSize": 16, "labelPadding": 9, "domainWidth": 2}},
  "xOffset": {"field": "geno", "type": "nominal", "sort": ["WT","oe-5","oe-6"]}},
 "layer": [
  {"mark": {"type": "bar", "stroke": "black", "strokeWidth": 1.5},
   "encoding": {"y": {"field": "mean", "type": "quantitative", "scale": {"domain": [0, 4.8], "range": [870.7, 650], "nice": false, "zero": false}, "axis": {"orient": "left", "offset": -478.3, "values": [0, 2.4, 4.8], "format": ".1f", "tickSize": 7, "tickWidth": 1.5, "domainWidth": 2, "labelFontSize": 15.5, "labelPadding": 3, "title": "Relative expression level", "titleFontSize": 16.5, "titleAngle": -90, "titleX": -57.3, "titleY": 760, "titleAlign": "center", "titleBaseline": "middle"}},
    "y2": {"datum": 0},
    "color": {"field": "geno", "type": "nominal", "scale": {"domain": ["WT","oe-5","oe-6"], "range": ["#ffffff","#333333","#000000"]}, "legend": null}}},
  {"mark": {"type": "rule", "color": "black", "strokeWidth": 1.5},
   "encoding": {"y": {"field": "mean", "type": "quantitative", "scale": {"domain": [0, 4.8], "range": [870.7, 650], "nice": false, "zero": false}, "axis": {"orient": "left", "offset": -478.3, "domain": false, "ticks": false, "labels": false, "title": "OsWRKY33", "titleFontStyle": "italic", "titleFontSize": 16.5, "titleAngle": -90, "titleX": -72.3, "titleY": 765, "titleAlign": "center", "titleBaseline": "middle"}}, "y2": {"field": "upper"}}},
  {"mark": {"type": "tick", "color": "black", "thickness": 1.5, "size": 7},
   "encoding": {"y": {"field": "upper", "type": "quantitative", "scale": {"domain": [0, 4.8], "range": [870.7, 650], "nice": false, "zero": false}, "axis": null}}},
  {"mark": {"type": "text", "font": "Liberation Sans", "fontWeight": "bold", "fontSize": 15, "baseline": "alphabetic", "dy": -3},
   "encoding": {"y": {"field": "upper", "type": "quantitative", "scale": {"domain": [0, 4.8], "range": [870.7, 650], "nice": false, "zero": false}, "axis": {"orient": "left", "offset": -478.3, "domain": false, "ticks": false, "labels": false, "title": "F", "titleFontSize": 19, "titleAngle": 0, "titleX": -69.3, "titleY": 621.5, "titleAlign": "center", "titleBaseline": "middle"}}, "text": {"field": "sig"}}}
 ],
 "resolve": {"axis": {"y": "independent"}}},
{"data": {"name": "F_i"},
 "encoding": {"x": {"field": "time", "type": "nominal", "sort": ["0","15","30","90","180"], "scale": {"range": [524, 671], "paddingInner": 0.17, "paddingOuter": 0.15}, "axis": {"orient": "bottom", "offset": -196, "title": null, "ticks": false, "labelAngle": 0, "labelFontSize": 13, "labelPadding": 6, "domainWidth": 1.5}},
  "xOffset": {"field": "geno", "type": "nominal", "sort": ["WT","ir-14","ir-29"]}},
 "layer": [
  {"mark": {"type": "bar", "stroke": "black", "strokeWidth": 1.2},
   "encoding": {"y": {"field": "mean", "type": "quantitative", "scale": {"domain": [0, 1.8], "range": [730, 633.3], "nice": false, "zero": false}, "axis": {"orient": "left", "offset": -524, "values": [0, 0.9, 1.8], "format": ".1f", "tickSize": 3, "tickWidth": 1.5, "domainWidth": 1.5, "labelFontSize": 13, "labelPadding": 1, "title": null}},
    "y2": {"datum": 0},
    "color": {"field": "geno", "type": "nominal", "scale": {"domain": ["WT","ir-14","ir-29"], "range": ["#ffffff","#bdbdbd","#737373"]}, "legend": null}}},
  {"mark": {"type": "rule", "color": "black", "strokeWidth": 1.3},
   "encoding": {"y": {"field": "mean", "type": "quantitative", "scale": {"domain": [0, 1.8], "range": [730, 633.3], "nice": false, "zero": false}, "axis": null}, "y2": {"field": "upper"}}},
  {"mark": {"type": "tick", "color": "black", "thickness": 1.3, "size": 5},
   "encoding": {"y": {"field": "upper", "type": "quantitative", "scale": {"domain": [0, 1.8], "range": [730, 633.3], "nice": false, "zero": false}, "axis": null}}},
  {"mark": {"type": "text", "font": "Liberation Sans", "fontWeight": "bold", "fontSize": 12, "baseline": "alphabetic", "dy": -2},
   "encoding": {"y": {"field": "upper", "type": "quantitative", "scale": {"domain": [0, 1.8], "range": [730, 633.3], "nice": false, "zero": false}, "axis": null}, "text": {"field": "sig"}}}
 ],
 "resolve": {"axis": {"y": "independent"}}}
],
"resolve": {"scale": {"x": "independent", "y": "independent", "xOffset": "independent", "color": "independent"}}
}
